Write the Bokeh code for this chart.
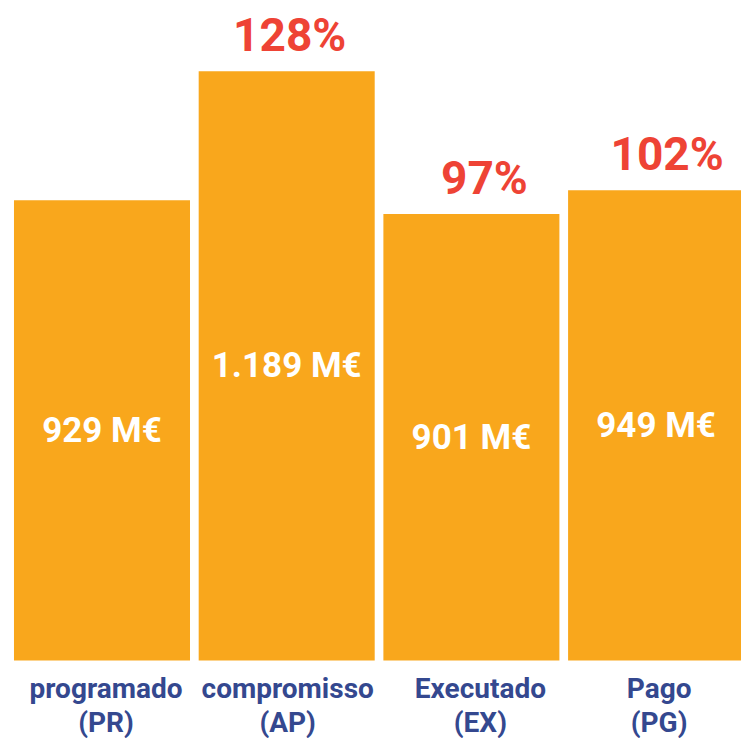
from bokeh.plotting import figure
from bokeh.models import ColumnDataSource, Range1d
from bokeh.core.properties import value
from bokeh.embed import file_html
from bokeh.resources import INLINE

# ---- data ----
categories = ["programado", "compromisso", "Executado", "Pago"]
codes = ["(PR)", "(AP)", "(EX)", "(PG)"]
values_meur = [929, 1189, 901, 949]
value_labels = ["929 M€", "1.189 M€", "901 M€", "949 M€"]
pct_labels = ["", "128%", "97%", "102%"]

ORANGE = "#F9A71C"
RED = "#EE4335"
BLUE = "#34488F"
FONT = value("Roboto")

idx = list(range(len(categories)))
src = ColumnDataSource(dict(
    x=idx,
    top=values_meur,
    mid=[v / 2 for v in values_meur],
    vlab=value_labels,
    plab=pct_labels,
    cat=categories,
    code=codes,
    base=[0] * len(categories),
))
# layout nudges (screen px) to mimic the reference's label placement
src.data["pdx"] = [0, 3, 13, 11]
src.data["cdx"] = [4, 1, 9, 3]

p = figure(width=741, height=738, output_backend="svg", toolbar_location=None,
           x_range=Range1d(-0.5495, 3.4624), y_range=Range1d(-157.4, 1332.0),
           min_border=0, background_fill_color="white", border_fill_color="white")
p.axis.visible = False
p.grid.visible = False
p.outline_line_color = None

p.vbar(x="x", top="top", bottom=0, width=0.953, source=src,
       fill_color=ORANGE, line_color=None)

# values inside bars
p.text(x="x", y="mid", text="vlab", source=src, text_align="center",
       text_baseline="middle", text_color="white", text_font=FONT,
       text_font_style="bold", text_font_size="35px")

# percentages above bars
p.text(x="x", y="top", text="plab", source=src, text_align="center",
       text_baseline="alphabetic", x_offset="pdx", y_offset=-36, text_color=RED,
       text_font=FONT, text_font_style="bold", text_font_size="46px")

# category labels
p.text(x="x", y="base", text="cat", source=src, text_align="center",
       text_baseline="alphabetic", x_offset="cdx", y_offset=28, text_color=BLUE,
       text_font=FONT, text_font_style="bold", text_font_size="28px")
p.text(x="x", y="base", text="code", source=src, text_align="center",
       text_baseline="alphabetic", x_offset="cdx", y_offset=62, text_color=BLUE,
       text_font=FONT, text_font_style="bold", text_font_size="28px")

open("out.html", "w").write(file_html(p, INLINE))
